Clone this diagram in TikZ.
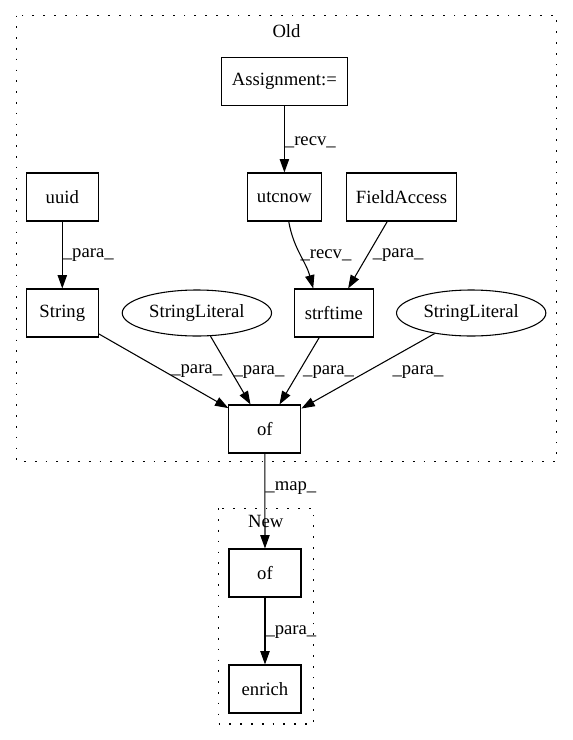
\documentclass[tikz,border=0pt]{standalone}
\usepackage{fontspec}
\setmainfont{Liberation Serif}
\usetikzlibrary{arrows.meta,shapes.geometric}
\tikzset{
  box/.style={rectangle,draw=black,line width=0.8pt,minimum height=36pt,inner sep=0pt},
  lit/.style={ellipse,draw=black,line width=0.8pt,minimum width=112pt,minimum height=34.5pt,inner sep=0pt},
  line/.style={draw,line width=0.8pt,-{Triangle[length=10pt,width=7pt]}},
  lbl/.style={inner sep=0pt,anchor=west},
  cluster/.style={draw=black,line width=0.8pt,dash pattern=on 1.3pt off 6.8pt},
}
\begin{document}
\begin{tikzpicture}[x=0.75pt,y=-0.75pt,font=\fontsize{14}{16}\selectfont]
  \useasboundingbox (0,0) rectangle (573,740);
  % clusters
  \draw[cluster] (16.4,15.5) rectangle (556.7,461.5);
  \node (oldlbl) at (286.5,31) {Old};
  \draw[cluster] (218.3,508.3) rectangle (313.3,724);
  \node (newlbl) at (265.8,521.7) {New};
  % old
  \node[box,minimum width=94pt] (assign) at (284.4,81.3) {Assignment:=};
  \node[box,minimum width=54pt] (uuid) at (62.3,197) {uuid};
  \node[box,minimum width=56pt] (utcnow) at (284.4,197) {utcnow};
  \node[box,minimum width=83pt] (field) at (401.6,197) {FieldAccess};
  \node[box,minimum width=54pt] (string) at (62.3,313) {String};
  \node[lit] (lit1) at (196.9,313) {StringLiteral};
  \node[box,minimum width=59pt] (strf) at (333.8,313) {strftime};
  \node[lit] (lit2) at (471.2,313) {StringLiteral};
  \node[box,minimum width=54pt] (ofold) at (264.9,429) {of};
  % new
  \node[box,minimum width=54pt] (ofnew) at (265,573) {of};
  \node[box,minimum width=54pt] (enrich) at (265,689) {enrich};
  % edges
  \draw[line] (assign) -- node[lbl,pos=0.54] {\_recv\_} (utcnow);
  \draw[line] (uuid) -- node[lbl,pos=0.5] {\_para\_} (string);
  \draw[line] (utcnow.-80) to[out=-80,in=105] node[lbl,pos=0.5] {\_recv\_} (strf.130);
  \draw[line] (field) -- node[lbl,pos=0.5,xshift=3.4pt] {\_para\_} (strf);
  \draw[line] (string) -- node[lbl,pos=0.507,xshift=4.7pt] {\_para\_} (ofold);
  \draw[line] (lit1) -- node[lbl,pos=0.52,xshift=1.3pt] {\_para\_} (ofold);
  \draw[line] (strf) -- node[lbl,pos=0.51,xshift=2.8pt] {\_para\_} (ofold);
  \draw[line] (lit2) -- node[lbl,pos=0.51,xshift=19pt] {\_para\_} (ofold);
  \draw[line] (ofold) -- node[lbl,pos=0.365] {\_map\_} (ofnew);
  \draw[line] (ofnew) -- node[lbl,pos=0.51] {\_para\_} (enrich);
\end{tikzpicture}
\end{document}
